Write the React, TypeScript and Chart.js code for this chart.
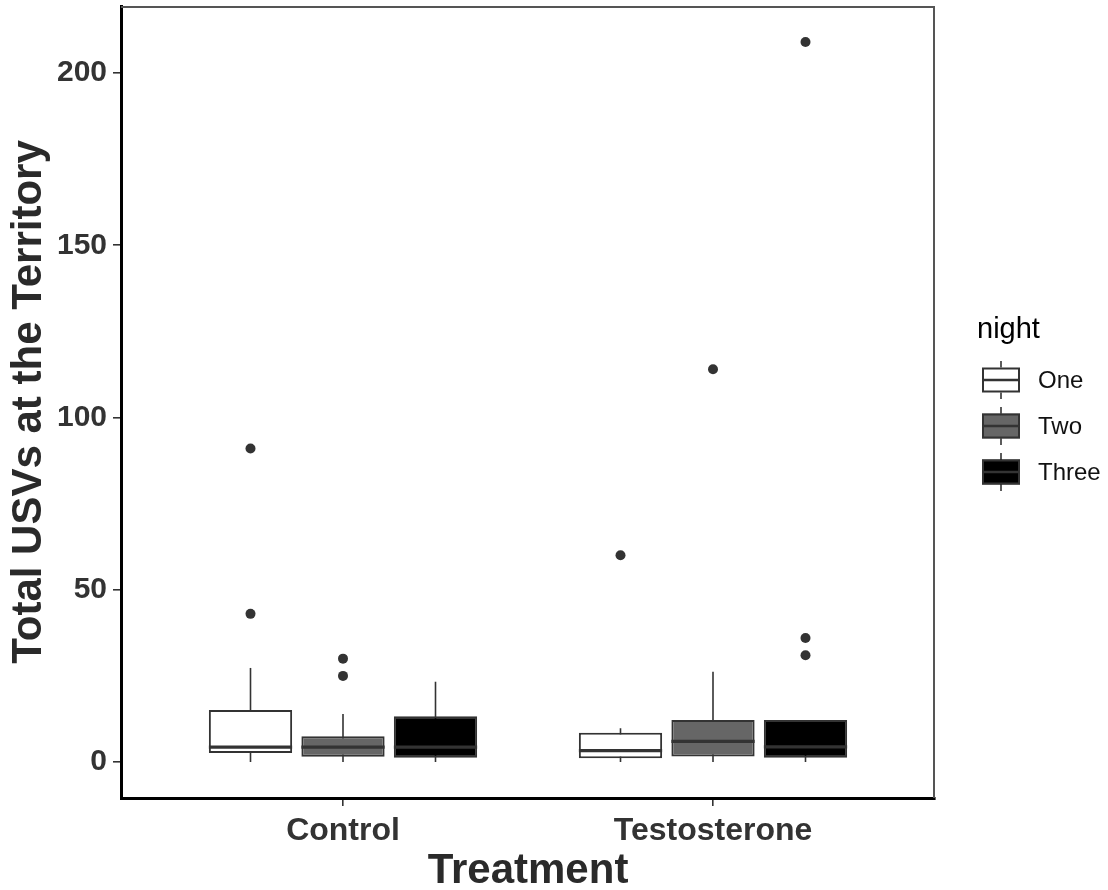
import React, { useEffect, useRef } from 'react';
import { Chart, registerables } from 'chart.js';

Chart.register(...registerables);

// ---- data ----
const treatments = ['Control', 'Testosterone'];
const nights = ['One', 'Two', 'Three'];
const nightFills = ['#FFFFFF', '#666666', '#000000'];
// each row = one night, columns = [Control, Testosterone]
const lowerWhisker = [[0, 0], [0, 0], [0, 0]];
const firstQuartile = [[2.6, 1.1], [1.5, 1.6], [1.2, 1.2]];
const medians = [[4.3, 3.3], [4.3, 6.0], [4.3, 4.4]];
const thirdQuartile = [[15.1, 8.5], [7.5, 12.2], [13.3, 12.2]];
const upperWhisker = [[27.3, 9.8], [13.9, 26.2], [23.3, 12.2]];
const outliers = [
  [[43, 91], [60]],
  [[25, 30], [114]],
  [[], [31, 36, 209]],
];
const yTickValues = [0, 50, 100, 150, 200];
const xTitle = 'Treatment';
const yTitle = 'Total USVs at the Territory';
const legendTitle = 'night';

// ---- layout helpers ----
const FONT = '"Liberation Sans", Arial, Helvetica, sans-serif';
const DODGE = 0.25;
const boxPos = (t: number, n: number) => t + 1 + (n - 1) * DODGE;

const allValues = [
  ...lowerWhisker.flat(),
  ...upperWhisker.flat(),
  ...outliers.flat(2),
];
const dataMin = Math.min(...allValues);
const dataMax = Math.max(...allValues);
const yPad = (dataMax - dataMin) * 0.05;

const boxExtras = {
  id: 'boxExtras',
  beforeDatasetsDraw(chart: any) {
    const ctx = chart.ctx;
    const y = chart.scales.y;
    nights.forEach((_, n) => {
      const meta = chart.getDatasetMeta(n);
      meta.data.forEach((bar: any, t: number) => {
        ctx.save();
        ctx.strokeStyle = '#333333';
        ctx.lineWidth = 1.6;
        ctx.beginPath();
        ctx.moveTo(bar.x, y.getPixelForValue(lowerWhisker[n][t]));
        ctx.lineTo(bar.x, y.getPixelForValue(upperWhisker[n][t]));
        ctx.stroke();
        ctx.restore();
      });
    });
  },
  afterDatasetsDraw(chart: any) {
    const ctx = chart.ctx;
    const y = chart.scales.y;
    nights.forEach((_, n) => {
      const meta = chart.getDatasetMeta(n);
      meta.data.forEach((bar: any, t: number) => {
        const py = y.getPixelForValue(medians[n][t]);
        ctx.save();
        ctx.strokeStyle = '#333333';
        ctx.lineWidth = 3.2;
        ctx.beginPath();
        ctx.moveTo(bar.x - bar.width / 2, py);
        ctx.lineTo(bar.x + bar.width / 2, py);
        ctx.stroke();
        ctx.restore();
      });
    });
  },
  afterDraw(chart: any) {
    const ctx = chart.ctx;
    const a = chart.chartArea;
    ctx.save();
    // panel border (top / right)
    ctx.strokeStyle = '#555555';
    ctx.lineWidth = 2;
    ctx.beginPath();
    ctx.moveTo(a.left, a.top + 1);
    ctx.lineTo(a.right - 1, a.top + 1);
    ctx.lineTo(a.right - 1, a.bottom);
    ctx.stroke();

    // legend
    const lx = a.right + 47;
    ctx.fillStyle = '#000000';
    ctx.font = `29px ${FONT}`;
    ctx.textBaseline = 'alphabetic';
    ctx.textAlign = 'left';
    ctx.fillText(legendTitle, a.right + 42, 338);
    nights.forEach((label, n) => {
      const cy = 380 + n * 46;
      const kw = 38;
      const cx = lx + kw / 2;
      ctx.strokeStyle = '#333333';
      ctx.lineWidth = 1.6;
      ctx.beginPath();
      ctx.moveTo(cx, cy - 19);
      ctx.lineTo(cx, cy + 19);
      ctx.stroke();
      ctx.fillStyle = nightFills[n];
      ctx.fillRect(lx, cy - 12.5, kw, 25);
      ctx.lineWidth = 2;
      ctx.strokeRect(lx + 1, cy - 11.5, kw - 2, 23);
      ctx.lineWidth = 2.5;
      ctx.beginPath();
      ctx.moveTo(lx, cy);
      ctx.lineTo(lx + kw, cy);
      ctx.stroke();
      ctx.fillStyle = '#111111';
      ctx.font = `24px ${FONT}`;
      ctx.textBaseline = 'middle';
      ctx.fillText(label, lx + kw + 18, cy + 1);
    });
    ctx.restore();
  },
};

export default function App() {
  const ref = useRef<HTMLCanvasElement>(null);

  useEffect(() => {
    if (!ref.current) return;
    const boxDatasets = nights.map((night, n) => ({
      type: 'bar' as const,
      label: night,
      data: treatments.map((_, t) => ({
        x: boxPos(t, n),
        y: [firstQuartile[n][t], thirdQuartile[n][t]],
      })),
      backgroundColor: nightFills[n],
      borderColor: '#333333',
      borderWidth: 2,
      borderSkipped: false,
      grouped: false,
      categoryPercentage: 1,
      barPercentage: 0.9,
    }));
    const outlierDatasets = nights.map((night, n) => ({
      type: 'scatter' as const,
      label: night + ' outliers',
      data: treatments.flatMap((_, t) =>
        outliers[n][t].map((v) => ({ x: boxPos(t, n), y: v }))
      ),
      pointRadius: 5,
      pointHoverRadius: 5,
      backgroundColor: '#333333',
      borderWidth: 0,
    }));

    const chart = new Chart(ref.current, {
      type: 'bar',
      data: { datasets: [...boxDatasets, ...outlierDatasets] as any },
      options: {
        animation: false,
        responsive: false,
        devicePixelRatio: 1,
        events: [],
        layout: { padding: { top: 6, right: 173, left: 0, bottom: 0 } },
        plugins: { legend: { display: false }, tooltip: { enabled: false } },
        scales: {
          x: {
            type: 'linear',
            min: 0.4,
            max: treatments.length + 0.6,
            offset: false,
            afterBuildTicks: (s: any) => {
              s.ticks = treatments.map((_, i) => ({ value: i + 1 }));
            },
            afterFit: (s: any) => {
              s.height = 92;
              s.paddingLeft = 0;
              s.paddingRight = 0;
            },
            ticks: {
              autoSkip: false,
              maxRotation: 0,
              padding: 6,
              color: '#333333',
              font: { family: FONT, size: 32, weight: 'bold' },
              callback: (v: any) => treatments[Math.round(Number(v)) - 1] ?? '',
            },
            grid: {
              offset: false,
              drawOnChartArea: false,
              drawTicks: true,
              tickLength: 8,
              tickColor: '#333333',
              lineWidth: 1.6,
            },
            border: { display: true, color: '#000000', width: 3 },
            title: {
              display: true,
              text: xTitle,
              color: '#2a2a2a',
              font: { family: FONT, size: 42, weight: 'bold', lineHeight: 0.9 },
              padding: { top: 0, bottom: 0 },
            },
          },
          y: {
            type: 'linear',
            min: dataMin - yPad,
            max: dataMax + yPad,
            afterBuildTicks: (s: any) => {
              s.ticks = yTickValues.map((v) => ({ value: v }));
            },
            afterFit: (s: any) => {
              s.width = 121;
              s.paddingTop = 0;
              s.paddingBottom = 0;
            },
            ticks: {
              padding: 6,
              color: '#333333',
              font: { family: FONT, size: 30, weight: 'bold' },
              callback: (v: any) => String(v),
            },
            grid: {
              drawOnChartArea: false,
              drawTicks: true,
              tickLength: 8,
              tickColor: '#333333',
              lineWidth: 1.6,
            },
            border: { display: true, color: '#000000', width: 3 },
            title: {
              display: true,
              text: yTitle,
              color: '#2a2a2a',
              font: { family: FONT, size: 42, weight: 'bold', lineHeight: 1.2 },
              padding: { top: 4, bottom: 0 },
            },
          },
        },
      },
      plugins: [boxExtras],
    });
    return () => chart.destroy();
  }, []);

  return (
    <div style={{ position: 'absolute', left: 0, top: 0, width: 1108, height: 890, background: '#fff' }}>
      <canvas ref={ref} width={1108} height={890} style={{ display: 'block' }} />
    </div>
  );
}
